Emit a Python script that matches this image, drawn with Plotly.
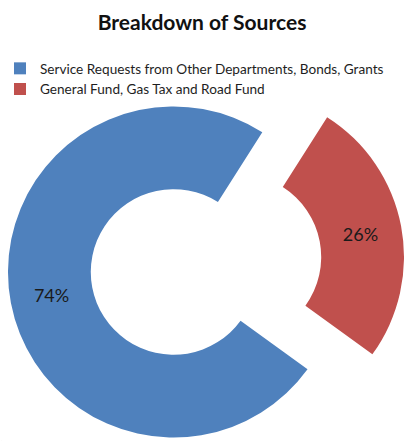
import plotly.graph_objects as go

labels = ["Service Requests from Other Departments, Bonds, Grants",
          "General Fund, Gas Tax and Road Fund"]
values = [74, 26]
colors = ["#4F81BD", "#C0504D"]
title_text = "Breakdown of Sources"

W, H = 404, 441
R = 166
# donut centre (px) and the pulled-out slice centre (px)
CX, CY = 173, 272
PX, PY = 238, 257
ROT = 126

def dom(cx, cy, r):
    return dict(x=[max(0, (cx - r) / W), min(1, (cx + r) / W)],
                y=[max(0, (H - (cy + r)) / H), min(1, (H - (cy - r)) / H)])

transparent = "rgba(0,0,0,0)"
font = "Lato, 'Open Sans', sans-serif"

common = dict(labels=labels, values=values, hole=0.5, sort=False,
              direction="clockwise", rotation=ROT, hoverinfo="skip",
              textinfo="none", textposition="inside",
              insidetextorientation="horizontal",
              textfont=dict(family=font, size=18, color="#1a1a1a"))

fig = go.Figure()
# legend carrier (essentially zero-size)
fig.add_trace(go.Pie(labels=labels, values=values, sort=False,
                     marker=dict(colors=colors, line=dict(width=0)),
                     domain=dict(x=[0, 0.0005], y=[0, 0.0005]),
                     textinfo="none", hoverinfo="skip", showlegend=True))
# main ring (first slice)
fig.add_trace(go.Pie(**common, marker=dict(colors=[colors[0], transparent], line=dict(width=0)),
                     texttemplate=["%{percent:.0%}", ""],
                     domain=dom(CX, CY, R), showlegend=False))
# exploded slice
fig.add_trace(go.Pie(**common, marker=dict(colors=[transparent, colors[1]], line=dict(width=0)),
                     texttemplate=["", "%{percent:.0%}"],
                     domain=dom(PX, PY, R), showlegend=False))

fig.update_layout(
    width=W, height=H,
    margin=dict(l=0, r=0, t=0, b=0),
    paper_bgcolor="white", plot_bgcolor="white",
    title=dict(text="<b>" + title_text + "</b>", x=0.5, xanchor="center",
               y=1 - 23 / H, yanchor="middle", yref="container",
               font=dict(family=font, size=21, color="#111111")),
    legend=dict(x=-1 / W, xanchor="left", y=1 - 53 / H, yanchor="top",
                font=dict(family=font, size=13.6, color="#1e1e1e"),
                bgcolor="rgba(0,0,0,0)", traceorder="normal"),
)

fig.write_html("out.html")
